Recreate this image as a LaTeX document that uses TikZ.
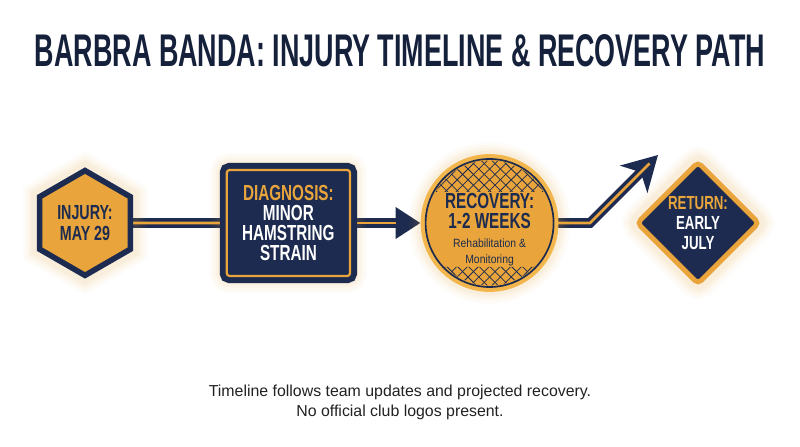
\documentclass[tikz,border=0pt]{standalone}
\usepackage{fontspec}
\usepackage{graphicx}
\setmainfont{Liberation Sans}
\newfontfamily\condfont[FakeStretch=0.7]{Liberation Sans}
\newfontfamily\slimfont[FakeStretch=0.87]{Liberation Sans}
\usetikzlibrary{shapes.geometric,arrows.meta,backgrounds}
\definecolor{navy}{HTML}{1C2B4F}
\definecolor{titlenavy}{HTML}{15203B}
\definecolor{gold}{HTML}{E9A53B}
\definecolor{goldlt}{HTML}{F2B64C}
\definecolor{foottext}{HTML}{222222}
\begin{document}
\begin{tikzpicture}
\tikzstyle{glow}=[preaction={draw=gold,opacity=0.03,line width=24pt},preaction={draw=gold,opacity=0.04,line width=20pt},preaction={draw=gold,opacity=0.05,line width=16pt},preaction={draw=gold,opacity=0.06,line width=12pt}]
\tikzstyle{bigtext}=[align=center,inner sep=0pt,font=\condfont\bfseries\fontsize{15.5}{14.4}\selectfont]
\tikzstyle{hexa}=[regular polygon,regular polygon sides=6,shape border rotate=30,minimum size=2.62cm,fill=gold,draw=navy,line width=4pt,glow,text=navy,align=center,inner sep=0pt,font=\condfont\bfseries\fontsize{14.5}{14.8}\selectfont]
\tikzstyle{diagbox}=[rectangle,minimum width=3.08cm,minimum height=2.65cm,rounded corners=2pt,glow,preaction={draw=navy,line width=10pt},fill=navy,draw=gold,line width=1.6pt,text=white,bigtext]
\tikzstyle{recov}=[circle,minimum size=3.2cm,glow,preaction={draw=goldlt,line width=7pt},fill=gold,draw=navy,line width=1.2pt]
\tikzstyle{retdia}=[diamond,minimum width=3.08cm,minimum height=3.08cm,rounded corners=3pt,glow,fill=navy,draw=gold,line width=3.5pt,text=white,align=center,inner sep=0pt,font=\condfont\bfseries\fontsize{13.5}{14.4}\selectfont]
\tikzstyle{band}=[draw=navy,line width=7pt]
\tikzstyle{stripe}=[draw=gold,line width=2pt]
\tikzstyle{hatch}=[draw=navy,line width=0.55pt]
\useasboundingbox (0,0) rectangle (20,11.175);
\node[text=titlenavy,inner sep=0pt,font=\condfont\bfseries] (title) at (10,9.9) {\resizebox{18.25cm}{0.8cm}{BARBRA BANDA: INJURY TIMELINE \& RECOVERY PATH}};
\node[hexa] (hex) at (2.125,5.6) {INJURY:\\MAY 29};
\node[diagbox] (diag) at (7.21,5.6) {\textcolor{gold}{DIAGNOSIS:}\\MINOR\\HAMSTRING\\STRAIN};
\node[recov] (rec) at (12.24,5.6) {};
\begin{scope}[shift={(rec.center)}]
\clip (-2,0.775) rectangle (2,2) (-2,-1.1) rectangle (2,-2);
\clip (0,0) circle (1.56cm);
\foreach \i in {-14,...,14}
  \draw[hatch] (\i*0.27-2,-2) -- ++(4,4) (\i*0.27+2,-2) -- ++(-4,4);
\end{scope}
\node[bigtext,text=navy] (rectxt) at ([yshift=-0.17cm]rec.center) {RECOVERY:\\1-2 WEEKS\\[-1pt]{\slimfont\mdseries\fontsize{8.5}{8.5}\selectfont Rehabilitation \&}\\[-3pt]{\slimfont\mdseries\fontsize{8.5}{8.5}\selectfont Monitoring}};
\node[retdia] (ret) at (17.45,5.6) {\textcolor{gold}{RETURN:}\\EARLY\\JULY};
\coordinate (bend) at (14.75,5.6);
\coordinate (tip) at (16.45,7.3);
\node[align=center,inner sep=0pt,text=foottext,font=\fontsize{11.3}{14.2}\selectfont] (foot) at (10,1.125) {Timeline follows team updates and projected recovery.\\No official club logos present.};
\begin{scope}[on background layer]
\fill[white] (0,0) rectangle (20,11.175);
\draw[band] (hex) -- (diag);
\draw[stripe] (hex) -- (diag);
\draw[band,-{Triangle[length=0.62cm,width=0.75cm]}] (diag) -- ([xshift=-3pt]rec.west);
\draw[stripe,shorten >=0.62cm] (diag) -- ([xshift=-3pt]rec.west);
\draw[band,-{Stealth[length=0.85cm,width=0.95cm,inset=0.24cm]}] (rec) -- (bend) -- (tip);
\draw[stripe,shorten >=0.3cm] (rec) -- (bend) -- (tip);
\end{scope}
\end{tikzpicture}
\end{document}
